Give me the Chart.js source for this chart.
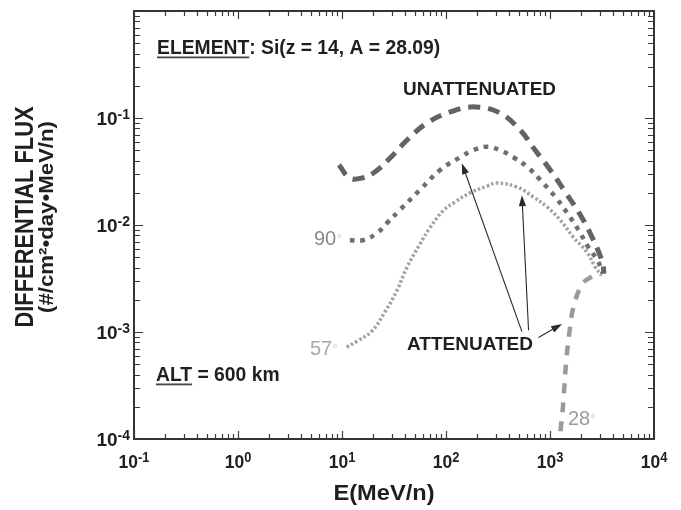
<!DOCTYPE html>
<html>
<head>
<meta charset="utf-8">
<script src="https://cdn.jsdelivr.net/npm/chart.js@4.4.1/dist/chart.umd.min.js"></script>
<style>
  html, body { margin: 0; padding: 0; background: #fff; }
  #wrap { width: 681px; height: 510px; }
</style>
</head>
<body>
<div id="wrap"><canvas id="c" width="681" height="510"></canvas></div>
<script>
// Si differential flux at 600 km, E in MeV/n, flux in #/cm2-day-MeV/n
const energyUnatt = [9.35, 11.9, 15.6, 20.7, 29, 42, 66, 110, 191, 332, 517, 721, 1006, 1403, 1958, 2555, 3190, 3300];
const fluxUnatt   = [0.0364, 0.0275, 0.0275, 0.0313, 0.0422, 0.062, 0.090, 0.114, 0.127, 0.111, 0.077, 0.050, 0.0327, 0.0203, 0.0124, 0.0076, 0.0045, 0.0035];

const energy90 = [11.9, 15.9, 21.7, 27, 36, 56, 88, 137, 182, 249, 332, 443, 604, 806, 1124, 1468, 1875, 2340, 2857, 3190];
const flux90   = [0.0072, 0.0072, 0.0084, 0.0104, 0.0138, 0.0212, 0.0327, 0.043, 0.050, 0.054, 0.050, 0.043, 0.035, 0.0264, 0.0183, 0.0129, 0.0090, 0.0062, 0.0047, 0.0036];

const energy57 = [11.1, 13.9, 19.4, 25.9, 33.8, 42, 56, 70, 94, 122, 171, 249, 310, 484, 690, 942, 1257, 1676, 2287, 2731, 3120];
const flux57   = [7.2e-4, 8.2e-4, 1.02e-3, 1.54e-3, 2.45e-3, 4.0e-3, 6.6e-3, 9.4e-3, 0.0136, 0.0164, 0.020, 0.0231, 0.0247, 0.0226, 0.0183, 0.0147, 0.0111, 0.0077, 0.0055, 0.0040, 0.0034];

const energy28 = [1175, 1230, 1315, 1374, 1436, 1535, 1680, 2046, 2555, 3120];
const flux28   = [7.9e-5, 1.0e-4, 1.75e-4, 3.06e-4, 5.5e-4, 9.8e-4, 1.7e-3, 2.8e-3, 3.3e-3, 3.5e-3];

// axis decades and their exponent labels
const xDecades = [0.1, 1, 10, 100, 1000, 10000];
const xDecadeExp = ['-1', '0', '1', '2', '3', '4'];
const yDecades = [1e-4, 1e-3, 1e-2, 1e-1, 1];
const yDecadeExp = ['-4', '-3', '-2', '-1', ''];

const FONT = '"Liberation Sans", Arial, Helvetica, sans-serif';

function pairs(xs, ys) { return xs.map((x, i) => ({ x: x, y: ys[i] })); }

function drawText(ctx, str, x, y, o) {
  ctx.save();
  ctx.font = (o.weight || 'bold') + ' ' + o.size + 'px ' + FONT;
  ctx.fillStyle = o.color || '#1f1f1f';
  ctx.textBaseline = 'alphabetic';
  ctx.textAlign = 'left';
  const w = ctx.measureText(str).width;
  const sx = o.width ? o.width / w : (o.sx || 1);
  ctx.translate(x, y);
  if (o.rotate) ctx.rotate(o.rotate);
  ctx.scale(sx, 1);
  let ox = 0;
  if (o.align === 'center') ox = -w / 2;
  else if (o.align === 'right') ox = -w;
  ctx.fillText(str, ox, 0);
  ctx.restore();
  return w * sx;
}

function textWidth(ctx, str, size, weight, sx) {
  ctx.save();
  ctx.font = (weight || 'bold') + ' ' + size + 'px ' + FONT;
  const w = ctx.measureText(str).width * (sx || 1);
  ctx.restore();
  return w;
}

// power-of-ten label: base "10" plus raised exponent
function drawPow(ctx, exp, x, y, align, sx) {
  const bs = 19, es = 14;
  const wb = textWidth(ctx, '10', bs, 'bold', sx);
  const we = textWidth(ctx, exp, es, 'bold', sx);
  let left = x;
  if (align === 'center') left = x - (wb + we) / 2;
  else if (align === 'right') left = x - (wb + we);
  drawText(ctx, '10', left, y, { size: bs, sx: sx });
  drawText(ctx, exp, left + wb, y - 6, { size: es, sx: sx });
}

function arrow(ctx, x1, y1, x2, y2) {
  const ang = Math.atan2(y2 - y1, x2 - x1);
  const len = 11, half = 3.6;
  ctx.save();
  ctx.strokeStyle = '#2a2a2a';
  ctx.fillStyle = '#2a2a2a';
  ctx.lineWidth = 1.1;
  ctx.beginPath();
  ctx.moveTo(x1, y1);
  ctx.lineTo(x2 - Math.cos(ang) * len * 0.8, y2 - Math.sin(ang) * len * 0.8);
  ctx.stroke();
  ctx.beginPath();
  ctx.moveTo(x2, y2);
  ctx.lineTo(x2 - Math.cos(ang) * len - Math.sin(ang) * half, y2 - Math.sin(ang) * len + Math.cos(ang) * half);
  ctx.lineTo(x2 - Math.cos(ang) * len + Math.sin(ang) * half, y2 - Math.sin(ang) * len - Math.cos(ang) * half);
  ctx.closePath();
  ctx.fill();
  ctx.restore();
}

// arrow tails/tips in data coordinates (E, flux)
const arrows = [
  { from: [537, 1.007e-3], to: [142, 0.0378] },
  { from: [622, 1.04e-3], to: [537, 0.0190] },
  { from: [776, 8.9e-4], to: [1306, 1.19e-3] }
];

const framePlugin = {
  id: 'frame',
  afterDatasetsDraw(chart) {
    const ctx = chart.ctx;
    const a = chart.chartArea;
    const xs = chart.scales.x, ys = chart.scales.y;

    // frame
    ctx.save();
    ctx.strokeStyle = '#333';
    ctx.lineWidth = 2;
    ctx.strokeRect(a.left, a.top, a.right - a.left, a.bottom - a.top);

    // inward tick marks on all four sides
    ctx.lineWidth = 1.2;
    ctx.strokeStyle = '#3a3a3a';
    ctx.beginPath();
    xDecades.forEach(d => {
      for (let m = 1; m <= 9; m++) {
        const v = d * m;
        if (v < xs.min * 0.999 || v > xs.max * 1.001) continue;
        const px = Math.round(xs.getPixelForValue(v)) + 0.5;
        const L = m === 1 ? 8 : 5;
        ctx.moveTo(px, a.bottom); ctx.lineTo(px, a.bottom - L);
        ctx.moveTo(px, a.top); ctx.lineTo(px, a.top + L);
      }
    });
    yDecades.forEach(d => {
      for (let m = 1; m <= 9; m++) {
        const v = d * m;
        if (v < ys.min * 0.999 || v > ys.max * 1.001) continue;
        const py = Math.round(ys.getPixelForValue(v)) + 0.5;
        const L = m === 1 ? 9 : 6;
        ctx.moveTo(a.left, py); ctx.lineTo(a.left + L, py);
        ctx.moveTo(a.right, py); ctx.lineTo(a.right - L, py);
      }
    });
    ctx.stroke();
    ctx.restore();

    // tick labels
    xDecades.forEach((d, i) => {
      drawPow(ctx, xDecadeExp[i], xs.getPixelForValue(d), a.bottom + 29, 'center', 0.92);
    });
    yDecades.forEach((d, i) => {
      if (!yDecadeExp[i]) return;
      drawPow(ctx, yDecadeExp[i], a.left - 4, ys.getPixelForValue(d) + 7, 'right', 1);
    });

    // axis titles
    drawText(ctx, 'E(MeV/n)', 384, 500, { size: 22, width: 101, align: 'center' });
    drawText(ctx, 'DIFFERENTIAL FLUX', 33, 217, { size: 25, width: 221, align: 'center', rotate: -Math.PI / 2 });
    drawText(ctx, '(#/cm\u00B2\u2022day\u2022MeV/n)', 53, 217, { size: 21, width: 192, align: 'center', rotate: -Math.PI / 2 });

    // annotations
    const wEl = drawText(ctx, 'ELEMENT', 157, 54, { size: 19.5, sx: 0.99 });
    drawText(ctx, ': Si(z = 14, A = 28.09)', 157 + wEl, 54, { size: 19.5, sx: 0.99 });
    ctx.save();
    ctx.fillStyle = '#444';
    ctx.fillRect(157, 56.5, wEl, 1.8);
    ctx.restore();

    drawText(ctx, 'UNATTENUATED', 403, 95, { size: 19, width: 153 });
    drawText(ctx, 'ATTENUATED', 407, 350, { size: 19, width: 126 });

    const wAlt = drawText(ctx, 'ALT', 156, 381, { size: 19.5, sx: 0.99 });
    drawText(ctx, ' = 600 km', 156 + wAlt, 381, { size: 19.5, sx: 0.99 });
    ctx.save();
    ctx.fillStyle = '#444';
    ctx.fillRect(156, 383.5, wAlt, 1.8);
    ctx.restore();

    // orbit inclination labels
    const incl = [
      { t: '90', x: 314, y: 245, c: '#8a8a8a' },
      { t: '57', x: 310, y: 355, c: '#a9a9a9' },
      { t: '28', x: 568, y: 425, c: '#9a9a9a' }
    ];
    incl.forEach(l => {
      const w = drawText(ctx, l.t, l.x, l.y, { size: 20, weight: 'normal', color: l.c });
      drawText(ctx, '\u00B0', l.x + w + 0.5, l.y - 2, { size: 12, weight: 'normal', color: '#c4c4c4' });
    });

    // pointer arrows
    arrows.forEach(ar => {
      arrow(ctx,
        xs.getPixelForValue(ar.from[0]), ys.getPixelForValue(ar.from[1]),
        xs.getPixelForValue(ar.to[0]), ys.getPixelForValue(ar.to[1]));
    });
  }
};

new Chart(document.getElementById('c'), {
  type: 'line',
  data: {
    datasets: [
      {
        label: 'Unattenuated',
        data: pairs(energyUnatt, fluxUnatt),
        borderColor: '#636363',
        borderWidth: 5,
        borderDash: [12, 8],
        borderCapStyle: 'butt'
      },
      {
        label: '90\u00B0',
        data: pairs(energy90, flux90),
        borderColor: '#6f6f6f',
        borderWidth: 4.5,
        borderDash: [4.5, 6],
        borderCapStyle: 'butt'
      },
      {
        label: '57\u00B0',
        data: pairs(energy57, flux57),
        borderColor: '#a3a3a3',
        borderWidth: 3.5,
        borderDash: [2.6, 2.2],
        borderCapStyle: 'butt'
      },
      {
        label: '28\u00B0',
        data: pairs(energy28, flux28),
        borderColor: '#9a9a9a',
        borderWidth: 4.5,
        borderDash: [10, 9],
        borderCapStyle: 'butt'
      }
    ]
  },
  options: {
    responsive: false,
    animation: false,
    devicePixelRatio: 1,
    layout: { padding: { left: 134, right: 27, top: 11, bottom: 71 } },
    elements: { point: { radius: 0 }, line: { tension: 0.4, fill: false } },
    datasets: { line: { clip: 0 } },
    scales: {
      x: { type: 'logarithmic', min: 0.1, max: 10000, display: false },
      y: { type: 'logarithmic', min: 1e-4, max: 1, display: false }
    },
    plugins: { legend: { display: false }, tooltip: { enabled: false } }
  },
  plugins: [framePlugin]
});
</script>
</body>
</html>
